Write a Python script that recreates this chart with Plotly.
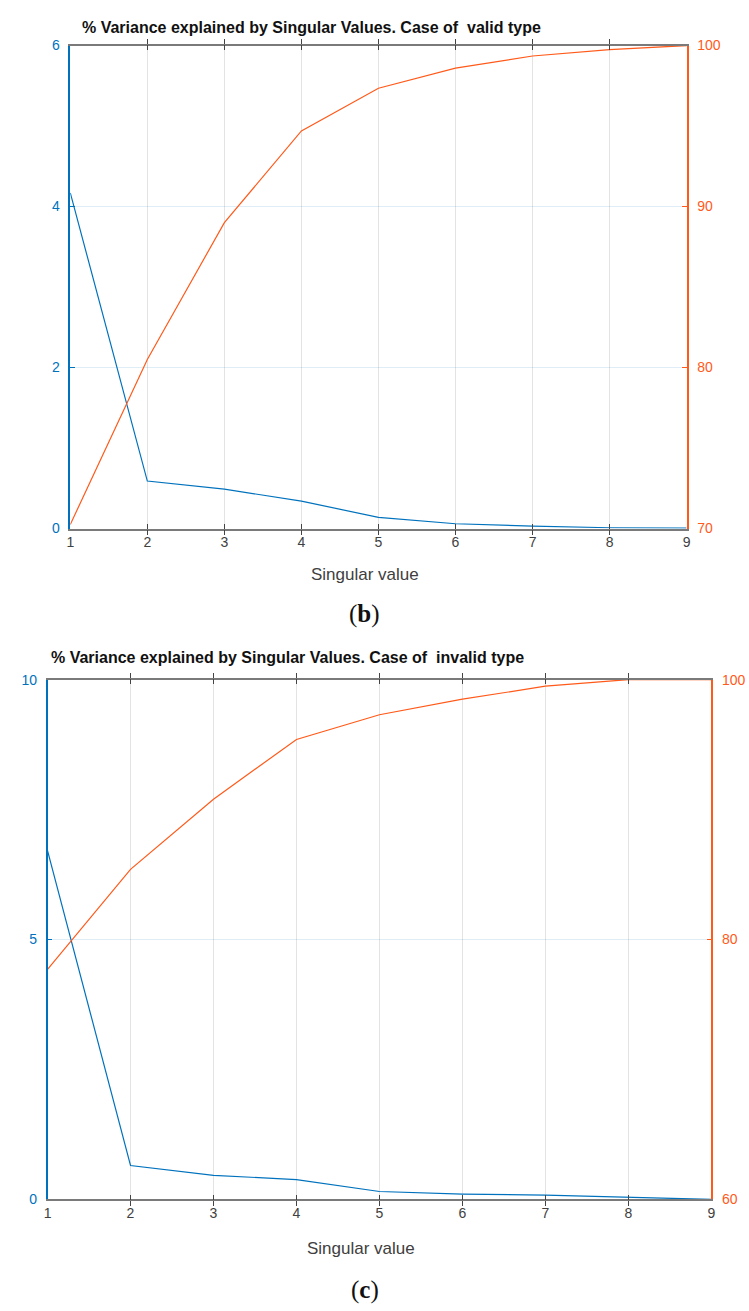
import plotly.graph_objects as go

W, H = 749, 1311

x_vals = [1, 2, 3, 4, 5, 6, 7, 8, 9]
valid_sv = [4.17, 0.59, 0.49, 0.34, 0.14, 0.06, 0.03, 0.01, 0.005]
valid_cum = [70.25, 80.5, 89.0, 94.7, 97.35, 98.6, 99.35, 99.75, 100]
invalid_sv = [6.71, 0.65, 0.46, 0.38, 0.15, 0.10, 0.08, 0.04, 0.0]
invalid_cum = [77.7, 85.4, 90.8, 95.4, 97.3, 98.5, 99.5, 100, 100]

title_b = "% Variance explained by Singular Values. Case of  valid type"
title_c = "% Variance explained by Singular Values. Case of  invalid type"
xlabel = "Singular value"

BLUE = "#0072BD"
ORANGE = "#FF5A1A"
GRAY = "#7a7a7a"
FONT = "Liberation Sans, Arial, sans-serif"

def px_x(p):
    return p / W

def px_y(p):
    return 1 - p / H

fig = go.Figure()
fig.add_trace(go.Scatter(x=x_vals, y=valid_sv, mode="lines", line=dict(color=BLUE, width=1.2),
                         xaxis="x", yaxis="y", showlegend=False))
fig.add_trace(go.Scatter(x=x_vals, y=valid_cum, mode="lines", line=dict(color=ORANGE, width=1.2),
                         xaxis="x", yaxis="y2", showlegend=False))
fig.add_trace(go.Scatter(x=x_vals, y=invalid_sv, mode="lines", line=dict(color=BLUE, width=1.2),
                         xaxis="x2", yaxis="y3", showlegend=False))
fig.add_trace(go.Scatter(x=x_vals, y=invalid_cum, mode="lines", line=dict(color=ORANGE, width=1.2),
                         xaxis="x2", yaxis="y4", showlegend=False))

xcommon = dict(range=[1, 9], tickvals=x_vals, ticks="inside", ticklen=5, tickcolor="#444",
               showline=True, linecolor=GRAY, linewidth=1.5, mirror="allticks",
               showgrid=True, gridcolor="#e3e3e3", gridwidth=1, zeroline=False,
               tickfont=dict(family=FONT, size=14, color="#404040"), fixedrange=True)

def yleft(rng, ticks, dom, anchor):
    return dict(range=rng, tickvals=ticks, domain=dom, anchor=anchor, side="left",
                ticks="inside", ticklen=5, tickcolor=BLUE, showline=True, linecolor=BLUE,
                linewidth=1.5, showgrid=True, gridcolor="rgba(0,114,189,0.13)", zeroline=False,
                tickfont=dict(family=FONT, size=14, color=BLUE), ticklabelstandoff=6)

def yright(rng, ticks, overlay, anchor):
    return dict(range=rng, tickvals=ticks, overlaying=overlay, anchor=anchor, side="right",
                ticks="inside", ticklen=5, tickcolor=ORANGE, showline=True, linecolor=ORANGE,
                linewidth=1.5, showgrid=False, zeroline=False,
                tickfont=dict(family=FONT, size=14, color=ORANGE), ticklabelstandoff=6)

top_dom_x = [px_x(67), px_x(690)]
top_dom_y = [px_y(527), px_y(38)]
bot_dom_x = [px_x(44), px_x(715)]
bot_dom_y = [px_y(1206), px_y(680)]

fig.update_layout(
    width=W, height=H, margin=dict(l=0, r=0, t=0, b=0),
    paper_bgcolor="white", plot_bgcolor="white",
    xaxis=dict(xcommon, domain=top_dom_x, anchor="y"),
    xaxis2=dict(xcommon, domain=bot_dom_x, anchor="y3"),
    yaxis=yleft([0, 6], [0, 2, 4, 6], top_dom_y, "x"),
    yaxis2=yright([70, 100], [70, 80, 90, 100], "y", "x"),
    yaxis3=yleft([0, 10], [0, 5, 10], bot_dom_y, "x2"),
    yaxis4=yright([60, 100], [60, 80, 100], "y3", "x2"),
)

annotations = [
    dict(text=f"<b>{title_b}</b>", x=px_x(77), y=px_y(20), xanchor="left", yanchor="middle",
         font=dict(family=FONT, size=16, color="#111")),
    dict(text=f"<b>{title_c}</b>", x=px_x(45), y=px_y(658), xanchor="left", yanchor="middle",
         font=dict(family=FONT, size=16, color="#111")),
    dict(text=xlabel, x=px_x(365), y=px_y(574), xanchor="center", yanchor="middle",
         font=dict(family=FONT, size=17, color="#404040")),
    dict(text=xlabel, x=px_x(361), y=px_y(1256), xanchor="center", yanchor="middle",
         font=dict(family=FONT, size=17, color="#404040")),
    dict(text="(<b>b</b>)", x=px_x(364), y=px_y(613), xanchor="center", yanchor="middle",
         font=dict(family="Liberation Serif, DejaVu Serif, serif", size=25, color="#111")),
    dict(text="(<b>c</b>)", x=px_x(365), y=px_y(1298), xanchor="center", yanchor="middle",
         font=dict(family="Liberation Serif, DejaVu Serif, serif", size=25, color="#111")),
]
for a in annotations:
    a.update(xref="paper", yref="paper", showarrow=False)
fig.update_layout(annotations=annotations)

fig.write_html("out.html")
